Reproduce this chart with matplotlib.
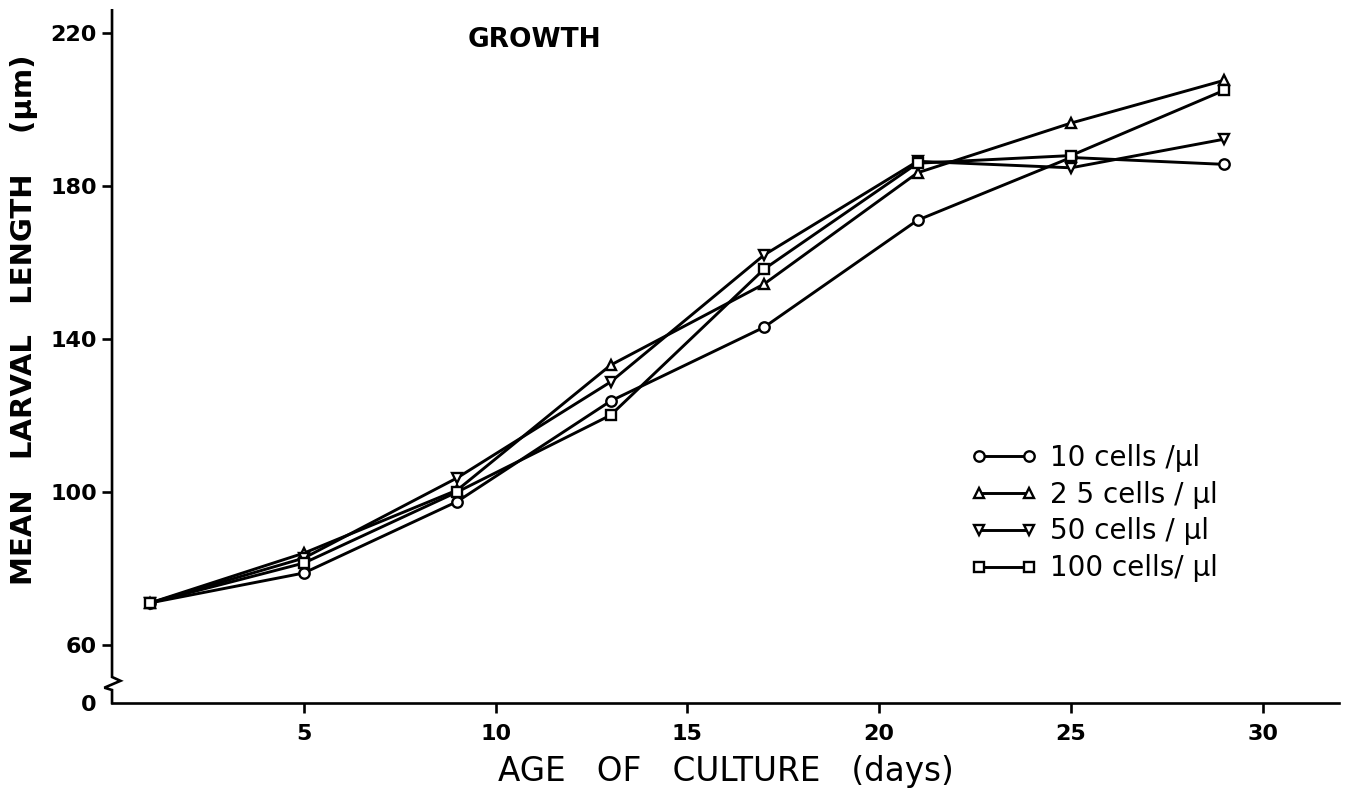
import matplotlib
matplotlib.use("Agg")
import matplotlib.pyplot as plt

# age of culture (days) and mean larval length (um) per food density
days = [1, 5, 9, 13, 17, 21, 25, 29]
cells_10 = [71, 78.8, 97.5, 123.8, 143.1, 171.1, 187.5, 185.7]
cells_25 = [71, 84.0, 100.5, 133.2, 154.4, 183.5, 196.5, 207.7]
cells_50 = [71, 82.7, 103.7, 128.8, 162.0, 186.5, 184.8, 192.3]
cells_100 = [71, 81.4, 100.0, 120.1, 158.3, 186.0, 188.0, 205.1]

labels = ["10 cells /\u03bcl", "2 5 cells / \u03bcl", "50 cells / \u03bcl", "100 cells/ \u03bcl"]
markers = ["o", "^", "v", "s"]

x_ticks = [5, 10, 15, 20, 25, 30]
y_ticks = [60, 100, 140, 180, 220]
y_zero = 44.8  # where the broken axis puts its "0"

plt.rcParams["font.family"] = ["DejaVu Sans"]

fig = plt.figure(figsize=(13.53, 7.93), dpi=100)
ax = fig.add_axes([0.0828, 0.1135, 0.9072, 0.8735])

for series, m, lab in zip([cells_10, cells_25, cells_50, cells_100], markers, labels):
    ms = 7.5 if m != "s" else 6.5
    ax.plot(days, series, color="black", lw=2.1, marker=m, ms=ms,
            mfc="white", mec="black", mew=1.7, label=lab, zorder=3)

ax.set_xlim(0, 32)
ax.set_ylim(y_zero, 226)

ax.spines["top"].set_visible(False)
ax.spines["right"].set_visible(False)
ax.spines["left"].set_visible(False)
ax.spines["bottom"].set_linewidth(1.9)

# y axis line with the break mark near the bottom
ax.plot([0, 0, 0.22, -0.2, 0, 0], [226, 51.6, 50.6, 48.8, 48.2, y_zero],
        color="black", lw=1.9, clip_on=False, zorder=4, solid_joinstyle="miter")

ax.set_xticks(x_ticks)
ax.set_xticklabels([str(t) for t in x_ticks])
ax.set_yticks([y_zero] + y_ticks)
ax.set_yticklabels(["0"] + [str(t) for t in y_ticks])
ax.tick_params(axis="both", direction="out", length=7, width=1.9, labelsize=16)
ax.tick_params(axis="x", pad=8)
ax.tick_params(axis="y", pad=4)
ax.yaxis.get_major_ticks()[0].tick1line.set_visible(False)
for t in ax.get_xticklabels() + ax.get_yticklabels():
    t.set_fontweight("bold")

ax.set_xlabel("AGE   OF   CULTURE   (days)", fontsize=23.5, labelpad=8)
ax.set_ylabel("MEAN   LARVAL   LENGTH    (\u03bcm)", fontsize=21, fontweight="bold")
ax.yaxis.set_label_coords(-0.06, 0.553)

ax.text(0.344, 0.957, "GROWTH", transform=ax.transAxes, ha="center", va="center",
        fontsize=19, fontweight="bold")

leg = ax.legend(loc="upper left", bbox_to_anchor=(0.707, 0.458),
                bbox_transform=fig.transFigure, frameon=False, numpoints=2,
                handlelength=2.4, handletextpad=0.45, labelspacing=0.32,
                borderpad=0, fontsize=20)

fig.savefig("out.png", dpi=100)
